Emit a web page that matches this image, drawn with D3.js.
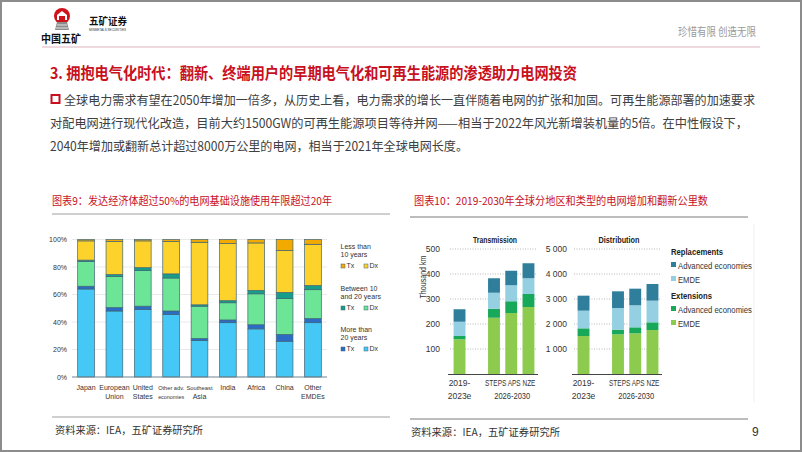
<!DOCTYPE html>
<html><head><meta charset="utf-8">
<script src="https://cdn.jsdelivr.net/npm/d3@7"></script>
<style>
body{margin:0;background:#fff;}
svg{display:block;}
</style></head>
<body>
<svg id="c" width="802" height="452"></svg>
<script>
// ---------- Chart 9 data (percent shares) ----------
const ageCategories = ["Japan","European Union","United States","Other adv. economies","Southeast Asia","India","Africa","China","Other EMDEs"];
const ageLabels = [["Japan"],["European","Union"],["United","States"],["Other adv.","economies"],["Southeast","Asia"],["India"],["Africa"],["China"],["Other","EMDEs"]];
const over20Dx   = [64, 48, 49, 45.5, 26.5, 39.5, 35, 26, 39.5];
const over20Tx   = [2, 2.5, 2.5, 2.5, 1.5, 2, 3, 5, 3];
const mid10_20Dx = [18, 22.5, 26, 24, 23.5, 12.5, 22.5, 26, 21];
const mid10_20Tx = [1, 1.5, 2, 3, 1, 1.5, 2.5, 4.5, 3];
const under10Dx  = [14, 24, 19.5, 23.5, 45.5, 41.5, 34.5, 30.5, 30];
const under10Tx  = [1, 1.5, 1, 1.5, 2, 3, 2.5, 8, 3.5];
const pctTicks = [0,20,40,60,80,100];

// ---------- Chart 10 data ----------
const scenarios = ["2019","gap","STEPS","APS","NZE"];
const scenarioKeys = ["2019","STEPS","APS","NZE"];
// Transmission (thousand km)
const trExtEMDE = [139, 225, 244, 268];
const trExtAdv  = [13, 36, 47, 52];
const trRepEMDE = [57, 64, 64, 63];
const trRepAdv  = [50, 58, 58, 60];
const trTicks = [100,200,300,400,500];
// Distribution (thousand km)
const diExtEMDE = [1520, 1587, 1627, 1760];
const diExtAdv  = [307, 186, 240, 307];
const diRepEMDE = [706, 867, 880, 866];
const diRepAdv  = [600, 667, 666, 667];
const diTicks = [1000,2000,3000,4000,5000];

const svg = d3.select("#c");
const CJK = "'Noto Sans CJK SC','Noto Sans',sans-serif";
const ARIAL = "'Liberation Sans',Arial,sans-serif";
const NARROW = "'Liberation Sans',Arial,sans-serif";

function fitText(sel, w){ return sel.attr("textLength",w).attr("lengthAdjust","spacingAndGlyphs"); }

// ---------- Slide frame & header ----------
svg.append("rect").attr("x",1).attr("y",1).attr("width",800).attr("height",450)
  .attr("fill","#fff").attr("stroke","#8c8c8c").attr("stroke-width",2);

const logo = svg.append("g");
logo.append("circle").attr("cx",62).attr("cy",16).attr("r",8).attr("fill","#d0121b");
logo.append("path").attr("d","M57,20 L57,15 L62,11 L67,15 L67,20 Z").attr("fill","#fff");
logo.append("rect").attr("x",59).attr("y",16).attr("width",6).attr("height",4).attr("fill","#d0121b");
logo.append("path").attr("d","M55,30 L57,22 L67,22 L69,30 Z").attr("fill","#8a8a8a");
logo.append("path").attr("d","M57,25 L67,25 M56,28 L68,28").attr("stroke","#fff").attr("stroke-width",0.8);
fitText(svg.append("text").attr("x",41).attr("y",43).attr("font-family",CJK).attr("font-weight","bold")
  .attr("font-size",11).attr("fill","#111").text("中国五矿"),40);
fitText(svg.append("text").attr("x",89).attr("y",25).attr("font-family",CJK).attr("font-weight","bold")
  .attr("font-size",10).attr("fill","#111").text("五矿证券"),38);
fitText(svg.append("text").attr("x",89).attr("y",31).attr("font-family",ARIAL)
  .attr("font-size",3.2).attr("fill","#333").text("MINMETALS SECURITIES"),37);
fitText(svg.append("text").attr("x",678).attr("y",36).attr("font-family",CJK)
  .attr("font-size",11).attr("fill","#9a9a9a").text("珍惜有限  创造无限"),78);
svg.append("line").attr("x1",42).attr("x2",760).attr("y1",47).attr("y2",47)
  .attr("stroke","#e8cdd5").attr("stroke-width",1.5);

fitText(svg.append("text").attr("x",50).attr("y",79).attr("font-family",CJK).attr("font-weight","bold")
  .attr("font-size",15.5).attr("fill","#c8101e")
  .text("3. 拥抱电气化时代：翻新、终端用户的早期电气化和可再生能源的渗透助力电网投资"),527);
svg.append("rect").attr("x",51.5).attr("y",95).attr("width",8).attr("height",8)
  .attr("fill","none").attr("stroke","#c8101e").attr("stroke-width",2);
const para = [
  {x:64, y:105, w:691, t:"全球电力需求有望在2050年增加一倍多，从历史上看，电力需求的增长一直伴随着电网的扩张和加固。可再生能源部署的加速要求"},
  {x:50, y:128, w:698, t:"对配电网进行现代化改造，目前大约1500GW的可再生能源项目等待并网——相当于2022年风光新增装机量的5倍。在中性假设下，"},
  {x:50, y:151, w:418, t:"2040年增加或翻新总计超过8000万公里的电网，相当于2021年全球电网长度。"}
];
para.forEach(p=>fitText(svg.append("text").attr("x",p.x).attr("y",p.y).attr("font-family",CJK)
  .attr("font-size",12.5).attr("fill","#404040").text(p.t),p.w));

fitText(svg.append("text").attr("x",52).attr("y",205).attr("font-family",CJK).attr("font-size",11)
  .attr("fill","#c8101e").text("图表9：发达经济体超过50%的电网基础设施使用年限超过20年"),280);
fitText(svg.append("text").attr("x",414).attr("y",205).attr("font-family",CJK).attr("font-size",11)
  .attr("fill","#c8101e").text("图表10：2019-2030年全球分地区和类型的电网增加和翻新公里数"),294);
svg.append("line").attr("x1",52).attr("x2",390).attr("y1",214).attr("y2",214).attr("stroke","#cfcfcf").attr("stroke-width",2);
svg.append("line").attr("x1",410).attr("x2",748).attr("y1",217).attr("y2",217).attr("stroke","#bdbdbd").attr("stroke-width",2);
svg.append("line").attr("x1",52).attr("x2",390).attr("y1",417).attr("y2",417).attr("stroke","#cfcfcf").attr("stroke-width",2);
svg.append("line").attr("x1",410).attr("x2",748).attr("y1",419).attr("y2",419).attr("stroke","#bdbdbd").attr("stroke-width",2);
fitText(svg.append("text").attr("x",55).attr("y",434).attr("font-family",CJK).attr("font-size",10.5)
  .attr("fill","#333").text("资料来源：IEA，五矿证券研究所"),148);
fitText(svg.append("text").attr("x",411).attr("y",436).attr("font-family",CJK).attr("font-size",10.5)
  .attr("fill","#333").text("资料来源：IEA，五矿证券研究所"),149);
svg.append("text").attr("x",752).attr("y",436).attr("font-family",ARIAL).attr("font-size",12)
  .attr("fill","#333").text("9");

svg.append("line").attr("x1",754).attr("x2",754).attr("y1",224).attr("y2",402).attr("stroke","#f0f0f0");

// ---------- Chart 9 ----------
(function(){
  const x = d3.scaleBand().domain(ageCategories).range([72,327]).paddingInner(0.41).paddingOuter(0.2);
  const y = d3.scaleLinear().domain([0,100]).range([377,239.5]);
  const g = svg.append("g");
  g.selectAll("line.grid").data(pctTicks.slice(1)).join("line")
    .attr("x1",72).attr("x2",327).attr("y1",d=>y(d)).attr("y2",d=>y(d))
    .attr("stroke","#e3e3e3").attr("stroke-width",0.8);
  const yAxis = g.append("g").attr("transform","translate(72,0)")
    .call(d3.axisLeft(y).tickValues(pctTicks).tickFormat(d=>d+"%").tickSize(0).tickPadding(5));
  yAxis.select(".domain").remove();
  yAxis.selectAll("text").attr("font-family",ARIAL).attr("font-size",7).attr("fill","#333");
  const series = [
    {v:over20Dx, c:"#45c8f5"},{v:over20Tx, c:"#2c6cc4"},
    {v:mid10_20Dx, c:"#6ce596"},{v:mid10_20Tx, c:"#169e8a"},
    {v:under10Dx, c:"#fdd22b"},{v:under10Tx, c:"#f2a900"}
  ];
  const data = ageCategories.map((cat,i)=>{
    const o={cat}; series.forEach((s,k)=>o["s"+k]=s.v[i]); return o;});
  const stack = d3.stack().keys(series.map((s,k)=>"s"+k))(data);
  stack.forEach((layer,k)=>{
    g.append("g").selectAll("rect").data(layer).join("rect")
      .attr("x",d=>x(d.data.cat)).attr("width",x.bandwidth())
      .attr("y",d=>y(d[1])).attr("height",d=>y(d[0])-y(d[1]))
      .attr("fill",series[k].c).attr("stroke","#3f6577").attr("stroke-width",0.7);
  });
  g.append("line").attr("x1",72).attr("x2",327).attr("y1",y(0)).attr("y2",y(0))
    .attr("stroke","#6f8590").attr("stroke-width",1.2);
  ageCategories.forEach((cat,i)=>{
    const cx = x(cat)+x.bandwidth()/2;
    ageLabels[i].forEach((ln,j)=>{
      const long = ln.length>=9;
      const t = g.append("text").attr("x",cx).attr("y",390+j*8.5)
        .attr("text-anchor","middle").attr("font-family",ARIAL).attr("font-size",long?6.2:7)
        .attr("fill","#333").text(ln);
      if(long) fitText(t, 26);
    });
  });
  const lg = [
    {h:["Less than","10 years"], y:246, tx:"#f2a900", dx:"#fdd22b"},
    {h:["Between 10","and 20 years"], y:288, tx:"#169e8a", dx:"#6ce596"},
    {h:["More than","20 years"], y:329, tx:"#2c6cc4", dx:"#45c8f5"}
  ];
  lg.forEach(l=>{
    l.h.forEach((s,j)=>g.append("text").attr("x",340.5).attr("y",l.y+2.5+j*8.5)
      .attr("font-family",ARIAL).attr("font-size",7).attr("fill","#333").text(s));
    const ry = l.y+18;
    [[341,l.tx,"Tx"],[364,l.dx,"Dx"]].forEach(([xx,c,lab])=>{
      g.append("rect").attr("x",xx).attr("y",ry).attr("width",4).attr("height",4)
        .attr("fill",c).attr("stroke","#3f6577").attr("stroke-width",0.5);
      g.append("text").attr("x",xx+5.5).attr("y",ry+4.2).attr("font-family",ARIAL)
        .attr("font-size",7).attr("fill","#333").text(lab);
    });
  });
})();

// ---------- Chart 10 ----------
const FS = 8.5;
function panel(x0, x1, domainMax, ticks, fmt, title, titleW, vals, tickRight){
  const x = d3.scaleBand().domain(scenarios).range([x0+3, x1]).paddingInner(0.31).paddingOuter(0.15);
  const y = d3.scaleLinear().domain([0,domainMax]).range([374,249]);
  const g = svg.append("g");
  g.selectAll("line.grid").data(ticks).join("line")
    .attr("x1",x0+2).attr("x2",x1-1).attr("y1",d=>y(d)).attr("y2",d=>y(d))
    .attr("stroke","#b0b0b0").attr("stroke-width",0.9).attr("stroke-dasharray","1,1.5");
  const ax = g.append("g").attr("transform",`translate(${tickRight},0)`)
    .call(d3.axisLeft(y).tickValues(ticks).tickFormat(fmt).tickSize(0).tickPadding(0));
  ax.select(".domain").remove();
  ax.selectAll("text").attr("font-family",NARROW).attr("font-size",FS).attr("fill","#333");
  const cols = ["#8dcb4e","#17a85a","#95cfe2","#2f7f9c"];
  const data = scenarioKeys.map((k,i)=>({k, a:vals[0][i], b:vals[1][i], c:vals[2][i], d:vals[3][i]}));
  const st = d3.stack().keys(["a","b","c","d"])(data);
  st.forEach((layer,k)=>{
    g.append("g").selectAll("rect").data(layer).join("rect")
      .attr("x",d=>x(d.data.k)).attr("width",x.bandwidth())
      .attr("y",d=>y(d[1])).attr("height",d=>y(d[0])-y(d[1])).attr("fill",cols[k]);
  });
  g.append("line").attr("x1",x0).attr("x2",x1+1).attr("y1",374.5).attr("y2",374.5)
    .attr("stroke","#444").attr("stroke-width",1.2);
  const tcx = (x("2019")+x("NZE")+x.bandwidth())/2 + 1;
  fitText(g.append("text").attr("x",tcx-titleW/2).attr("y",243)
    .attr("font-family",NARROW).attr("font-weight","bold")
    .attr("font-size",FS).attr("fill","#222").text(title), titleW);
  const c0 = x("2019")+x.bandwidth()/2;
  g.append("text").attr("x",c0).attr("y",386).attr("text-anchor","middle")
    .attr("font-family",NARROW).attr("font-size",FS).attr("fill","#333").text("2019-");
  g.append("text").attr("x",c0).attr("y",399).attr("text-anchor","middle")
    .attr("font-family",NARROW).attr("font-size",FS).attr("fill","#333").text("2023e");
  const sx = x("STEPS")-3, ex = x("NZE")+x.bandwidth()+1;
  fitText(g.append("text").attr("x",sx).attr("y",386)
    .attr("font-family",NARROW).attr("font-size",FS).attr("fill","#333").text("STEPS APS  NZE"), ex-sx);
  const mx = x("APS")+x.bandwidth()/2;
  fitText(g.append("text").attr("x",mx-17).attr("y",399)
    .attr("font-family",NARROW).attr("font-size",FS).attr("fill","#333").text("2026-2030"), 36);
  return g;
}
panel(448, 537, 500, trTicks, d=>d, "Transmission", 44, [trExtEMDE,trExtAdv,trRepEMDE,trRepAdv], 440);
panel(572, 661, 5000, diTicks, d=>d3.format(",")(d).replace(",", " "), "Distribution", 41, [diExtEMDE,diExtAdv,diRepEMDE,diRepAdv], 567);
fitText(svg.append("text").attr("transform","translate(426,277) rotate(-90)").attr("x",-21.5)
  .attr("font-family",NARROW).attr("font-size",FS).attr("fill","#333").text("Thousand km"), 43);

const leg = [
  {t:"Replacements", b:true, y:255, w:52},
  {t:"Advanced economies", c:"#2f7f9c", y:268.5, w:74},
  {t:"EMDE", c:"#95cfe2", y:282.5, w:22},
  {t:"Extensions", b:true, y:299, w:41},
  {t:"Advanced economies", c:"#17a85a", y:312.5, w:74},
  {t:"EMDE", c:"#8dcb4e", y:326.5, w:22}
];
leg.forEach(l=>{
  if(l.b){
    fitText(svg.append("text").attr("x",671).attr("y",l.y).attr("font-family",NARROW).attr("font-weight","bold")
      .attr("font-size",FS).attr("fill","#222").text(l.t), l.w);
  } else {
    svg.append("rect").attr("x",671).attr("y",l.y-6.5).attr("width",5).attr("height",5).attr("fill",l.c);
    fitText(svg.append("text").attr("x",678).attr("y",l.y).attr("font-family",NARROW)
      .attr("font-size",FS).attr("fill","#333").text(l.t), l.w);
  }
});
</script>
</body></html>
